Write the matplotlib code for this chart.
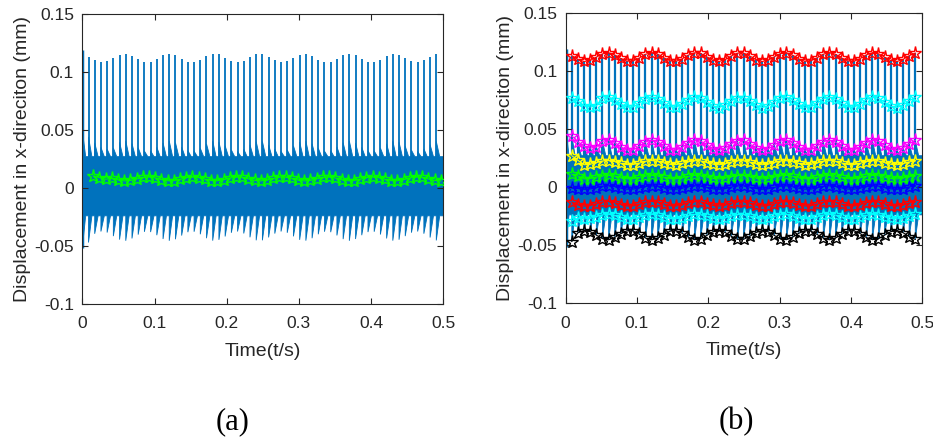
import matplotlib.pyplot as plt
import numpy as np

plt.rcParams["font.family"] = ["Liberation Sans", "DejaVu Sans"]

# ---------------------------------------------------------------------------
# Values (mm, s)
# ---------------------------------------------------------------------------
spike_period = 0.0086          # one impact every ~8.6 ms
band_top = 0.027               # upper edge of the dense vibration band
band_bottom = -0.024           # lower edge of the dense vibration band

# start-up impact at t = 0 (peak, upper tooth, lower tooth)
first_peak, first_tooth_top, first_tooth_bot = 0.119, 0.050, -0.052

# envelope trackers of panel (b), one value per impact
red_top = [0.1133, 0.1101, 0.1082, 0.1091, 0.1120, 0.1148, 0.1158, 0.1139, 0.1108, 0.1085,
           0.1087, 0.1112, 0.1144, 0.1158, 0.1146, 0.1115, 0.1088, 0.1084, 0.1105, 0.1137,
           0.1157, 0.1151, 0.1123, 0.1093, 0.1082, 0.1098, 0.1130, 0.1154, 0.1155, 0.1130,
           0.1099, 0.1082, 0.1092, 0.1122, 0.1150, 0.1157, 0.1137, 0.1105, 0.1084, 0.1088,
           0.1115, 0.1145, 0.1158, 0.1144, 0.1113, 0.1087, 0.1084, 0.1107, 0.1139, 0.1157,
           0.1149, 0.1120, 0.1091, 0.1082, 0.1100, 0.1132, 0.1155]
cyan_top = [0.0765, 0.0740, 0.0700, 0.0690, 0.0700, 0.0764, 0.0775, 0.0753, 0.0716, 0.0688,
            0.0690, 0.0721, 0.0758, 0.0775, 0.0761, 0.0724, 0.0692, 0.0687, 0.0712, 0.0750,
            0.0774, 0.0766, 0.0734, 0.0698, 0.0685, 0.0704, 0.0742, 0.0770, 0.0771, 0.0742,
            0.0705, 0.0685, 0.0697, 0.0733, 0.0766, 0.0774, 0.0751, 0.0712, 0.0687, 0.0692,
            0.0724, 0.0760, 0.0775, 0.0758, 0.0721, 0.0691, 0.0688, 0.0715, 0.0752, 0.0774,
            0.0765, 0.0730, 0.0696, 0.0685, 0.0707, 0.0744, 0.0772]
magenta = [0.0440, 0.0390, 0.0350, 0.0335, 0.0345, 0.0394, 0.0405, 0.0383, 0.0346, 0.0318,
           0.0320, 0.0351, 0.0388, 0.0405, 0.0391, 0.0354, 0.0322, 0.0317, 0.0342, 0.0380,
           0.0404, 0.0396, 0.0364, 0.0328, 0.0315, 0.0334, 0.0372, 0.0400, 0.0401, 0.0372,
           0.0335, 0.0315, 0.0327, 0.0363, 0.0396, 0.0404, 0.0381, 0.0342, 0.0317, 0.0322,
           0.0354, 0.0390, 0.0405, 0.0388, 0.0351, 0.0321, 0.0318, 0.0345, 0.0382, 0.0404,
           0.0395, 0.0360, 0.0326, 0.0315, 0.0337, 0.0374, 0.0402]
yellow = [0.0270, 0.0230, 0.0192, 0.0196, 0.0210, 0.0224, 0.0228, 0.0219, 0.0204, 0.0193,
          0.0194, 0.0206, 0.0221, 0.0228, 0.0222, 0.0208, 0.0195, 0.0193, 0.0203, 0.0218,
          0.0227, 0.0225, 0.0211, 0.0197, 0.0192, 0.0200, 0.0215, 0.0226, 0.0226, 0.0215,
          0.0200, 0.0192, 0.0197, 0.0211, 0.0224, 0.0227, 0.0218, 0.0203, 0.0193, 0.0195,
          0.0207, 0.0222, 0.0228, 0.0221, 0.0207, 0.0194, 0.0193, 0.0204, 0.0219, 0.0228,
          0.0224, 0.0210, 0.0196, 0.0192, 0.0201, 0.0216, 0.0227]
green = [0.0110, 0.0095, 0.0070, 0.0073, 0.0085, 0.0096, 0.0100, 0.0093, 0.0080, 0.0071,
         0.0072, 0.0082, 0.0094, 0.0100, 0.0095, 0.0083, 0.0072, 0.0071, 0.0079, 0.0092,
         0.0100, 0.0097, 0.0086, 0.0074, 0.0070, 0.0076, 0.0089, 0.0099, 0.0099, 0.0089,
         0.0077, 0.0070, 0.0074, 0.0086, 0.0097, 0.0100, 0.0092, 0.0079, 0.0071, 0.0072,
         0.0083, 0.0095, 0.0100, 0.0094, 0.0082, 0.0072, 0.0071, 0.0080, 0.0093, 0.0100,
         0.0097, 0.0085, 0.0074, 0.0070, 0.0077, 0.0090, 0.0099]
blue = [-0.0010, -0.0013, -0.0020, -0.0017, -0.0005, 0.0006, 0.0010, 0.0003, -0.0010, -0.0019,
        -0.0018, -0.0008, 0.0004, 0.0010, 0.0005, -0.0007, -0.0018, -0.0019, -0.0011, 0.0002,
        0.0010, 0.0007, -0.0004, -0.0016, -0.0020, -0.0014, -0.0001, 0.0009, 0.0009, -0.0001,
        -0.0013, -0.0020, -0.0016, -0.0004, 0.0007, 0.0010, 0.0002, -0.0011, -0.0019, -0.0018,
        -0.0007, 0.0005, 0.0010, 0.0004, -0.0008, -0.0018, -0.0019, -0.0010, 0.0003, 0.0010,
        0.0007, -0.0005, -0.0016, -0.0020, -0.0013, 0.0000, 0.0009]
red_low = [-0.0130, -0.0155, -0.0165, -0.0160, -0.0145, -0.0130, -0.0125, -0.0135, -0.0151, -0.0164,
           -0.0163, -0.0149, -0.0133, -0.0125, -0.0131, -0.0148, -0.0162, -0.0164, -0.0153, -0.0136,
           -0.0126, -0.0129, -0.0143, -0.0159, -0.0165, -0.0157, -0.0140, -0.0127, -0.0127, -0.0140,
           -0.0156, -0.0165, -0.0160, -0.0144, -0.0129, -0.0126, -0.0136, -0.0153, -0.0164, -0.0162,
           -0.0148, -0.0132, -0.0125, -0.0132, -0.0149, -0.0162, -0.0164, -0.0152, -0.0135, -0.0125,
           -0.0130, -0.0145, -0.0160, -0.0165, -0.0155, -0.0139, -0.0126]
cyan_low = [-0.0290, -0.0270, -0.0275, -0.0270, -0.0255, -0.0240, -0.0235, -0.0245, -0.0261, -0.0274,
            -0.0273, -0.0259, -0.0243, -0.0235, -0.0241, -0.0258, -0.0272, -0.0274, -0.0263, -0.0246,
            -0.0236, -0.0239, -0.0253, -0.0269, -0.0275, -0.0267, -0.0250, -0.0237, -0.0237, -0.0250,
            -0.0266, -0.0275, -0.0270, -0.0254, -0.0239, -0.0236, -0.0246, -0.0263, -0.0274, -0.0272,
            -0.0258, -0.0242, -0.0235, -0.0242, -0.0259, -0.0272, -0.0274, -0.0262, -0.0245, -0.0235,
            -0.0240, -0.0255, -0.0270, -0.0275, -0.0265, -0.0249, -0.0236]
black = [-0.0470, -0.0395, -0.0375, -0.0384, -0.0415, -0.0445, -0.0455, -0.0435, -0.0402, -0.0378,
         -0.0380, -0.0407, -0.0440, -0.0455, -0.0442, -0.0410, -0.0381, -0.0377, -0.0399, -0.0433,
         -0.0454, -0.0447, -0.0418, -0.0386, -0.0375, -0.0392, -0.0425, -0.0451, -0.0451, -0.0426,
         -0.0393, -0.0375, -0.0386, -0.0417, -0.0447, -0.0454, -0.0433, -0.0399, -0.0377, -0.0381,
         -0.0409, -0.0441, -0.0455, -0.0440, -0.0407, -0.0380, -0.0377, -0.0401, -0.0435, -0.0454,
         -0.0446, -0.0415, -0.0385, -0.0375, -0.0394, -0.0427, -0.0452]

# panel (a) tracker (slightly later start)
left_star_start = 0.015
left_green = [0.0105, 0.0090, 0.0075, 0.0084, 0.0070, 0.0061, 0.0065, 0.0078, 0.0091, 0.0095,
              0.0087, 0.0073, 0.0062, 0.0063, 0.0074, 0.0089, 0.0095, 0.0090, 0.0076, 0.0064,
              0.0062, 0.0071, 0.0086, 0.0094, 0.0092, 0.0079, 0.0066, 0.0061, 0.0068, 0.0082,
              0.0093, 0.0093, 0.0083, 0.0068, 0.0061, 0.0066, 0.0079, 0.0092, 0.0094, 0.0086,
              0.0071, 0.0062, 0.0064, 0.0076, 0.0089, 0.0095, 0.0089, 0.0075, 0.0063, 0.0062,
              0.0072, 0.0087, 0.0095, 0.0091, 0.0078, 0.0065, 0.0061]

x_ticks = [0, 0.1, 0.2, 0.3, 0.4, 0.5]
x_ticklabels = ["0", "0.1", "0.2", "0.3", "0.4", "0.5"]
y_ticks = [-0.1, -0.05, 0, 0.05, 0.1, 0.15]
y_ticklabels = ["-0.1", "-0.05", "0", "0.05", "0.1", "0.15"]

BLUE = "#0072BD"
AXCOL = "#262626"
TICK_FS = 12.5
LABEL_FS = 14

peaks = np.r_[first_peak, red_top]
tooth_top = np.r_[first_tooth_top, magenta]
tooth_bot = np.r_[first_tooth_bot, black]
spike_t = spike_period * np.arange(len(peaks))


def draw_signal(ax, spike_lw):
    """Dense vibration band with impact teeth and spikes."""
    ends = np.append(spike_t[1:], 0.5)
    xs, ys_up, ys_lo = [], [], []
    for k, t in enumerate(spike_t):
        xs += [t, t, t + 0.55 * spike_period, ends[k]]
        ys_up += [band_top, tooth_top[k], band_top, band_top]
        ys_lo += [band_bottom, tooth_bot[k], band_bottom, band_bottom]
    xs = np.array(xs)
    ax.fill(np.r_[xs, xs[::-1]], np.r_[ys_up, ys_lo[::-1]], color=BLUE, lw=0.6,
            edgecolor=BLUE, zorder=1)
    ax.vlines(spike_t, band_top, peaks, color=BLUE, lw=spike_lw, zorder=1)
    ax.vlines(spike_t[0], first_tooth_bot, first_peak, color=BLUE, lw=2.5, zorder=1)


def star_line(ax, t, vals, color):
    ax.plot(t, vals, "-*", color=color, ms=9.5, mfc="none", mew=1.0, lw=0.8, zorder=3)


def style_axes(ax):
    ax.set_xlim(0, 0.5)
    ax.set_ylim(-0.1, 0.15)
    ax.set_xticks(x_ticks)
    ax.set_xticklabels(x_ticklabels)
    ax.set_yticks(y_ticks)
    ax.set_yticklabels(y_ticklabels)
    ax.tick_params(direction="in", top=True, right=True, length=4, width=0.8,
                   colors=AXCOL, labelsize=TICK_FS)
    ax.tick_params(axis="x", pad=9)
    ax.tick_params(axis="y", pad=6)
    for sp in ax.spines.values():
        sp.set_color(AXCOL)
        sp.set_linewidth(0.8)
    ax.set_xlabel("Time(t/s)", fontsize=LABEL_FS, color=AXCOL, labelpad=8)
    ax.set_ylabel("Displacement in x-direciton (mm)", fontsize=LABEL_FS, color=AXCOL,
                  labelpad=2.5)


fig = plt.figure(figsize=(9.33, 4.41), dpi=100)
ax_a = fig.add_axes([0.0882, 0.3107, 0.3870, 0.6576])
ax_b = fig.add_axes([0.6063, 0.3129, 0.3822, 0.6576])

# --- panel (a) --------------------------------------------------------------
draw_signal(ax_a, 1.3)
t_left = left_star_start + spike_period * np.arange(len(left_green))
star_line(ax_a, t_left, left_green, "#00FF00")
style_axes(ax_a)

# --- panel (b) --------------------------------------------------------------
draw_signal(ax_b, 1.6)
t_right = spike_t[1:]
for vals, col in [(red_top, "#FF0000"), (cyan_top, "#00FFFF"), (magenta, "#FF00FF"),
                  (yellow, "#FFFF00"), (green, "#00FF00"), (blue, "#0000FF"),
                  (red_low, "#FF0000"), (cyan_low, "#00FFFF"), (black, "#000000")]:
    star_line(ax_b, t_right, vals, col)
style_axes(ax_b)

fig.text(233 / 933, 1 - 422 / 441, "(a)", family="Liberation Serif", fontsize=22,
         ha="center", va="center")
fig.text(736 / 933, 1 - 422 / 441, "(b)", family="Liberation Serif", fontsize=22,
         ha="center", va="center")

fig.savefig("out.png", dpi=100)
